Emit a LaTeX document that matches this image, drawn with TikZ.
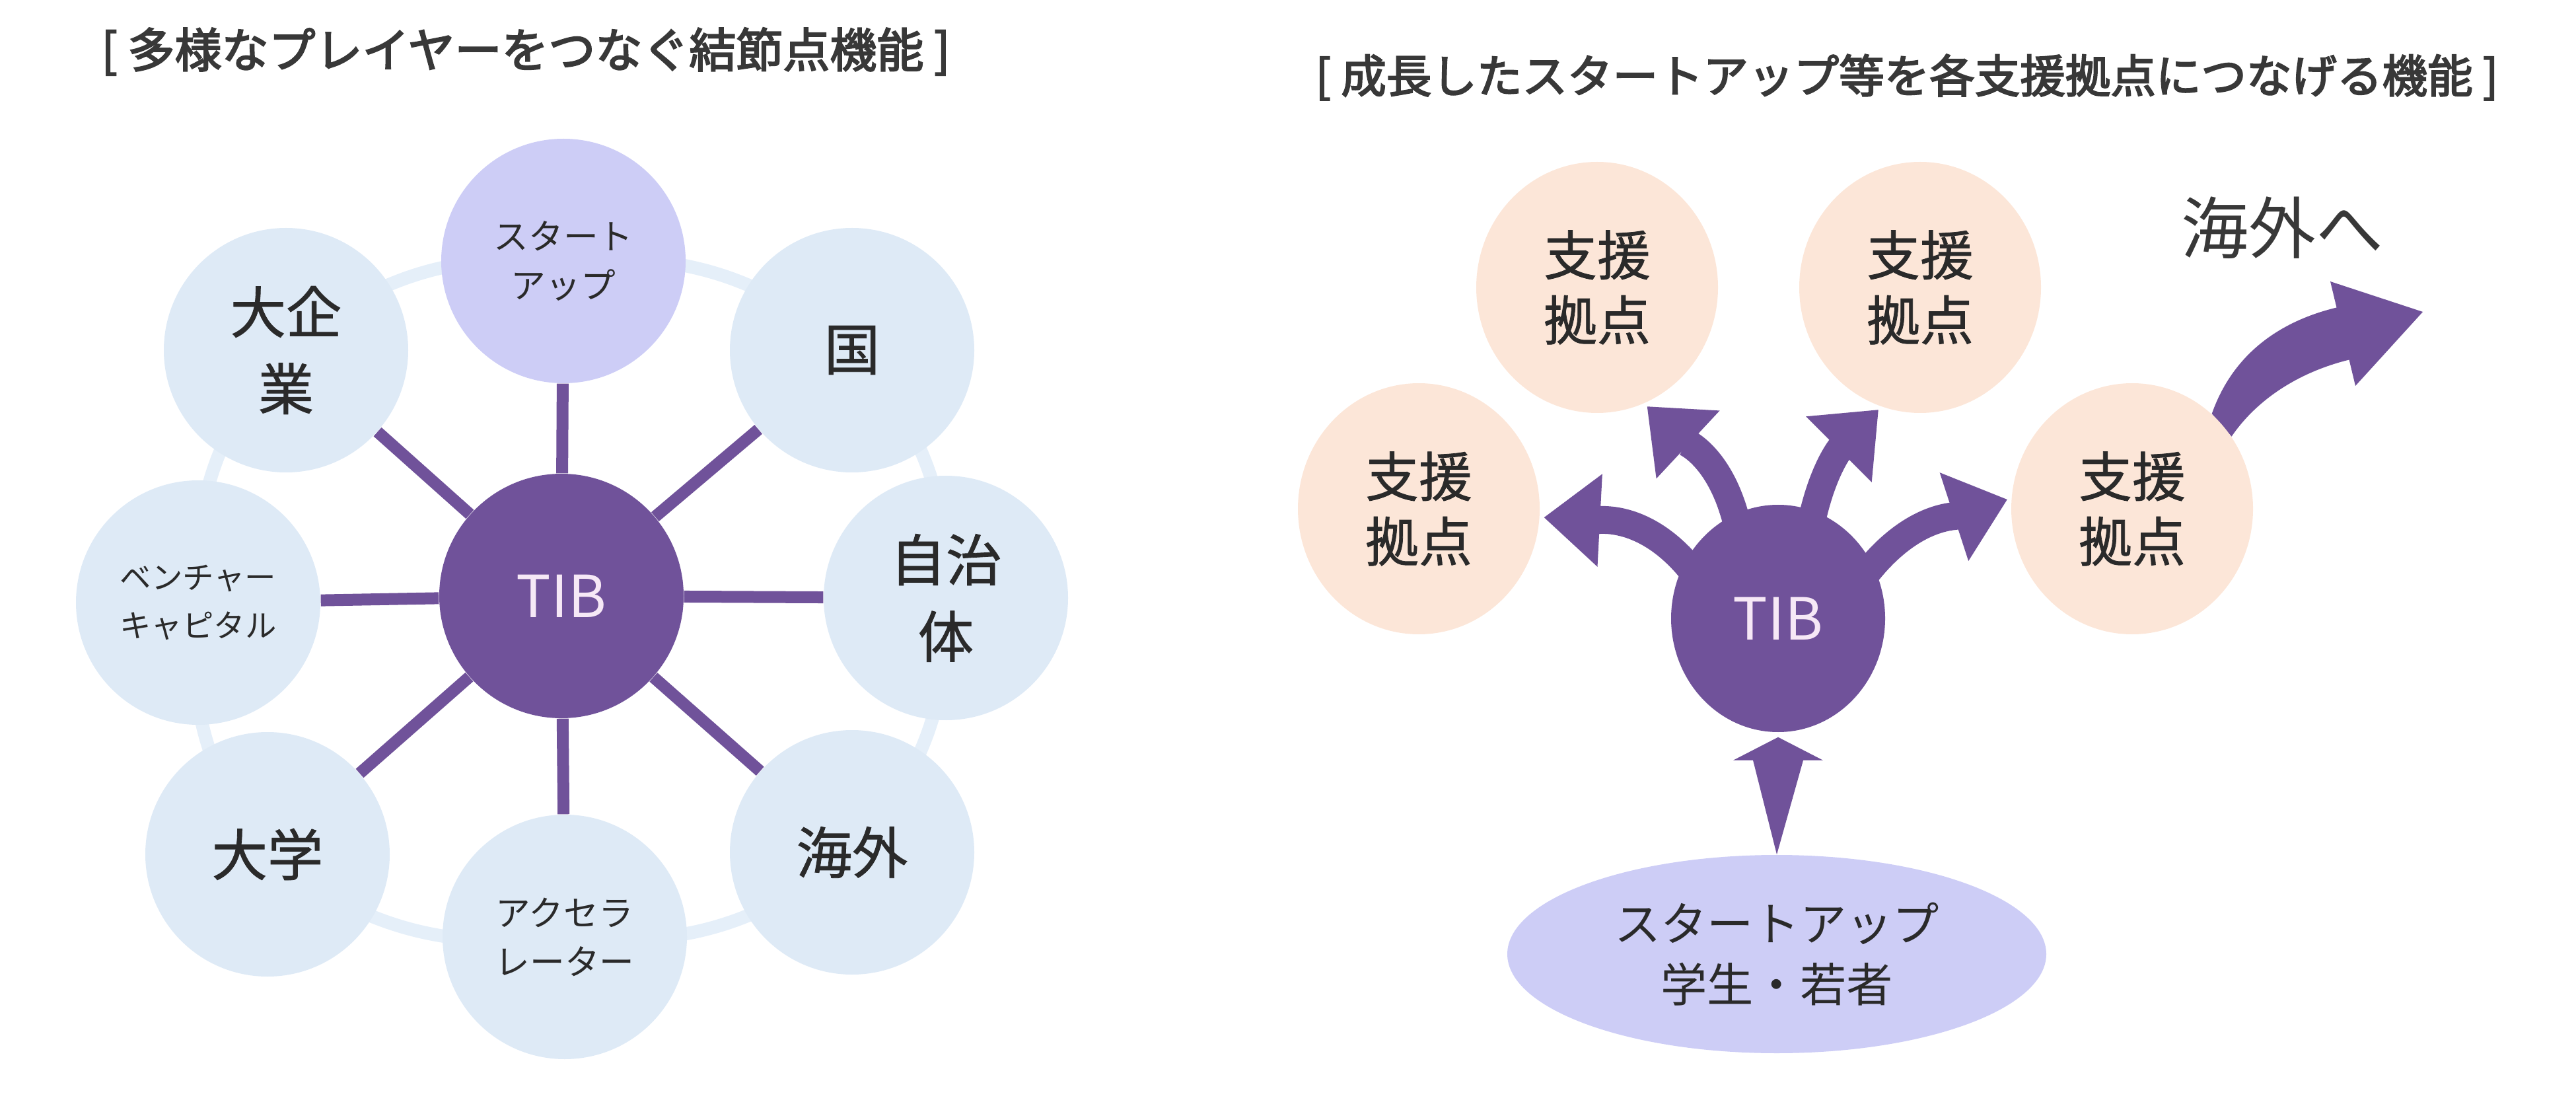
\documentclass[tikz,border=0pt]{standalone}
\usepackage{fontspec}
\setmainfont{Noto Sans CJK JP}
\newfontfamily\titlefont{Noto Sans CJK JP}[FakeBold=3]
\newfontfamily\labelfont{Noto Sans CJK JP}[FakeBold=1]
\usepackage{tikz}
\usetikzlibrary{arrows.meta, shapes, positioning, calc, backgrounds}
\definecolor{tibpurple}{HTML}{70529A}
\definecolor{playerblue}{HTML}{DEEAF6}
\definecolor{ringblue}{HTML}{E5EFF9}
\definecolor{startlav}{HTML}{CDCDF6}
\definecolor{sitepeach}{HTML}{FCE6D8}
\definecolor{inkgray}{HTML}{2A2A2A}
\definecolor{titlegray}{HTML}{383838}
\definecolor{tibpink}{HTML}{F6E8F6}

\begin{document}
\begin{tikzpicture}[
    player/.style={circle, fill=playerblue, minimum size=3.7cm, inner sep=0pt, align=center, text=inkgray},
    hub/.style={circle, fill=tibpurple, minimum size=3.7cm, inner sep=0pt, text=tibpink, font=\fontsize{25}{30}\selectfont},
    bigkanji/.style={font=\labelfont\fontsize{24}{33}\selectfont},
    smallkana/.style={font=\fontsize{15}{21}\selectfont},
    spoke/.style={draw=tibpurple, line width=0.18cm},
    ring/.style={draw=ringblue, line width=0.2cm},
    hubsite/.style={ellipse, fill=sitepeach, minimum width=3.66cm, minimum height=3.8cm, inner sep=0pt, align=center, text=inkgray, font=\labelfont\fontsize{23}{28}\selectfont},
    flow/.style={draw=tibpurple, line width=0.42cm, -{Triangle[length=0.85cm, width=1.35cm]}, shorten >=0.06cm, shorten <=-0.4cm},
    heading/.style={text=titlegray, font=\titlefont\fontsize{19.5}{23}\selectfont}
  ]
  \useasboundingbox (0,0) rectangle (39,16.82);

  % Titulos
  \node[heading, font=\titlefont\fontsize{20.2}{23}\selectfont] (titleL) at (7.96,16.04) {[ 多様なプレイヤーをつなぐ結節点機能 ]};
  \node[heading] (titleR) at (28.87,15.65) {[ 成長したスタートアップ等を各支援拠点につなげる機能 ]};

  % Red de actores alrededor de TIB
  \node[hub] (tibL) at (8.50,7.80) {TIB};
  \node[player, fill=startlav, smallkana] (su) at (8.53,12.87) {スタート\\アップ};
  \node[player, bigkanji] (kuni) at (12.90,11.52) {国};
  \node[player, bigkanji] (jichi) at (14.32,7.77) {自治\\体};
  \node[player, bigkanji] (kaigai) at (12.90,3.92) {海外};
  \node[player, smallkana] (accel) at (8.55,2.64) {アクセラ\\レーター};
  \node[player, bigkanji] (daigaku) at (4.05,3.89) {大学};
  \node[player, font=\fontsize{13.5}{21}\selectfont] (vc) at (3.00,7.70) {ベンチャー\\キャピタル};
  \node[player, bigkanji] (daikigyo) at (4.33,11.52) {大企\\業};

  \begin{scope}[on background layer]
    \foreach \a/\b in {su/kuni, kuni/jichi, jichi/kaigai, kaigai/accel, accel/daigaku, daigaku/vc, vc/daikigyo, daikigyo/su}
      \draw[ring] (\a.center) to[bend left=22] (\b.center);
  \end{scope}
  \foreach \n in {su, kuni, jichi, kaigai, accel, daigaku, vc, daikigyo}
    \draw[spoke] (tibL) -- (\n);

  % Conexion con los centros de apoyo
  \node[hub, ellipse, minimum width=3.24cm, minimum height=3.44cm] (tibR) at (26.92,7.46) {TIB};
  \node[hubsite] (spL) at (21.48,9.12) {支援\\拠点};
  \node[hubsite] (spTL) at (24.18,12.47) {支援\\拠点};
  \node[hubsite] (spTR) at (29.07,12.47) {支援\\拠点};
  \node[hubsite] (spR) at (32.28,9.12) {支援\\拠点};
  \node[ellipse, fill=startlav, minimum width=8.16cm, minimum height=3.0cm, align=center, text=inkgray, font=\fontsize{20}{26}\selectfont] (st) at (26.90,2.38) {スタートアップ\\学生・若者};
  \node[text=titlegray, font=\fontsize{29}{34}\selectfont] (abroadtxt) at (34.55,13.37) {海外へ};
  \coordinate (abroad) at (36.68,12.10);

  \begin{scope}[on background layer]
    \draw[flow] (tibR.148) to[out=125, in=-3] (spL.-4);
    \draw[flow] (tibR.112) to[out=100, in=-43] (spTL.-68);
    \draw[flow] (tibR.72) to[out=80, in=-135] (spTR.-108);
    \draw[flow] (tibR.30) to[out=55, in=-162] (spR.175);
    % flecha hacia el exterior
    \fill[tibpurple] (spR.50) .. controls (33.8,11.45) and (34.5,11.955) .. (35.375,12.165)
      -- (35.28,12.56) -- (abroad) -- (35.66,10.98) -- (35.565,11.375)
      .. controls (34.77,11.18) and (34.15,10.75) .. (spR.36) -- cycle;
  \end{scope}
  % flecha desde abajo
  \fill[tibpurple] (st.north) -- ($(tibR.south)+(-0.38,-0.42)$) -- ($(tibR.south)+(-0.68,-0.42)$)
    -- ($(tibR.south)+(0,-0.07)$) -- ($(tibR.south)+(0.68,-0.42)$) -- ($(tibR.south)+(0.38,-0.42)$) -- cycle;
\end{tikzpicture}
\end{document}
